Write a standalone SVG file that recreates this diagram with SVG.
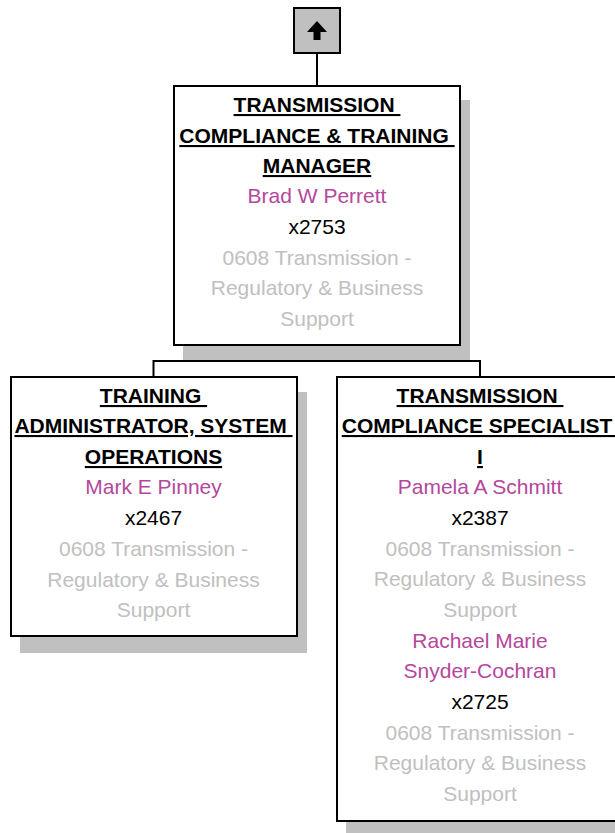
<svg xmlns="http://www.w3.org/2000/svg" width="615" height="833" viewBox="0 0 615 833">
<style>
text{font-family:"Liberation Sans",Arial,sans-serif;font-size:21px;text-anchor:middle;white-space:pre}
.t{font-weight:bold;text-decoration:underline;fill:#000}
.n{fill:#B5479C}
.x{fill:#000}
.d{fill:#C0C0C0}
.box{fill:#fff;stroke:#000;stroke-width:2}
.sh{fill:#C0C0C0}
.ln{stroke:#000;stroke-width:2;fill:none}
</style>
<rect width="615" height="833" fill="#fff"/>
<g id="connectors">
<line class="ln" x1="317" y1="53" x2="317" y2="85"/>
<line class="ln" x1="317" y1="345" x2="317" y2="361"/>
<line class="ln" x1="153.5" y1="361" x2="480" y2="361"/>
<line class="ln" x1="153.5" y1="360" x2="153.5" y2="377"/>
<line class="ln" x1="480" y1="360" x2="480" y2="377"/>
</g>
<g id="up">
<rect x="294" y="8" width="46" height="45" fill="#C0C0C0" stroke="#000" stroke-width="2"/>
<polygon points="317,21 327,32 320.5,32 320.5,40 313.5,40 313.5,32 307,32" fill="#000"/>
</g>
<g id="manager">
<rect class="sh" x="183" y="100" width="287" height="260"/>
<rect class="box" x="174" y="86" width="286" height="259"/>
<text class="t" x="317" y="112">TRANSMISSION </text>
<text class="t" x="317" y="143">COMPLIANCE &amp; TRAINING </text>
<text class="t" x="317" y="173">MANAGER</text>
<text class="n" x="317" y="203">Brad W Perrett</text>
<text class="x" x="317" y="234">x2753</text>
<text class="d" x="317" y="265">0608 Transmission -</text>
<text class="d" x="317" y="295">Regulatory &amp; Business</text>
<text class="d" x="317" y="326">Support</text>
</g>
<g id="training">
<rect class="sh" x="20" y="392" width="287" height="261"/>
<rect class="box" x="11" y="377" width="286" height="259"/>
<text class="t" x="153.5" y="403">TRAINING </text>
<text class="t" x="153.5" y="433">ADMINISTRATOR, SYSTEM </text>
<text class="t" x="153.5" y="464">OPERATIONS</text>
<text class="n" x="153.5" y="494">Mark E Pinney</text>
<text class="x" x="153.5" y="525">x2467</text>
<text class="d" x="153.5" y="556">0608 Transmission -</text>
<text class="d" x="153.5" y="587">Regulatory &amp; Business</text>
<text class="d" x="153.5" y="617">Support</text>
</g>
<g id="specialist">
<rect class="sh" x="346" y="392" width="287" height="445"/>
<rect class="box" x="337" y="377" width="286" height="444"/>
<text class="t" x="480" y="403">TRANSMISSION </text>
<text class="t" x="480" y="433">COMPLIANCE SPECIALIST </text>
<text class="t" x="480" y="464">I</text>
<text class="n" x="480" y="494">Pamela A Schmitt</text>
<text class="x" x="480" y="525">x2387</text>
<text class="d" x="480" y="556">0608 Transmission -</text>
<text class="d" x="480" y="586">Regulatory &amp; Business</text>
<text class="d" x="480" y="617">Support</text>
<text class="n" x="480" y="648">Rachael Marie</text>
<text class="n" x="480" y="678">Snyder-Cochran</text>
<text class="x" x="480" y="709">x2725</text>
<text class="d" x="480" y="740">0608 Transmission -</text>
<text class="d" x="480" y="770">Regulatory &amp; Business</text>
<text class="d" x="480" y="801">Support</text>
</g>
</svg>
